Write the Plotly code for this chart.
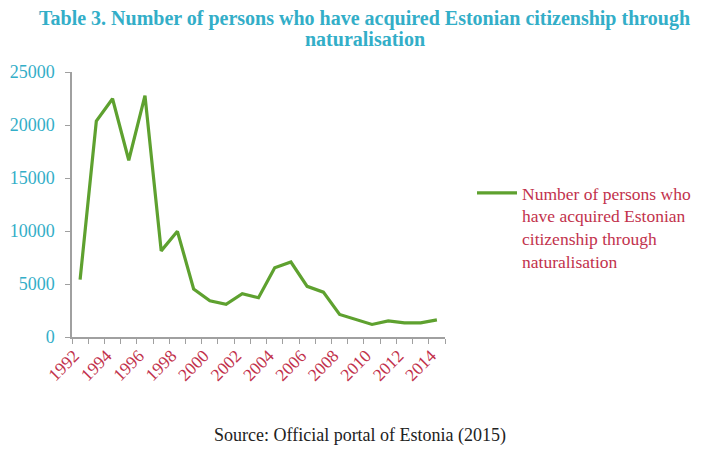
import plotly.graph_objects as go

years = list(range(1992, 2015))
persons = [5421, 20370, 22474, 16674, 22773, 8124, 9969, 4534, 3425, 3090,
           4091, 3706, 6523, 7072, 4781, 4228, 2124, 1670, 1184, 1518,
           1340, 1330, 1614]
tick_years = list(range(1992, 2015, 2))
series_name = "Number of persons who<br>have acquired Estonian<br>citizenship through<br>naturalisation"
title_lines = ["Table 3. Number of persons who have acquired Estonian citizenship through",
               "naturalisation"]
source_text = "Source: Official portal of Estonia (2015)"

FONT = "Liberation Serif"
TEAL = "#33aec8"
RED = "#c2324c"
GREEN = "#5ea12f"

# page body has an 8px margin, so the figure is drawn 8px smaller and offset
OFF = 8
W, H = 716 - 16, 454 - 16
L, T = 72 - OFF, 72 - OFF
R = W - (445 - OFF)
B = H - (337 - OFF)
PW, PH = W - L - R, H - T - B


def px_x(x_abs):
    return (x_abs - OFF - L) / PW


def px_y(y_abs):
    return (H - B - (y_abs - OFF)) / PH


fig = go.Figure()
fig.add_trace(go.Scatter(
    x=years, y=persons, mode="lines", name=series_name,
    line=dict(color=GREEN, width=3.2),
))

annotations = [
    dict(text="<b>%s</b>" % title_lines[0], xref="paper", yref="paper",
         x=px_x(364), y=px_y(18), xanchor="center", yanchor="middle", showarrow=False,
         font=dict(family=FONT, size=20, color=TEAL)),
    dict(text="<b>%s</b>" % title_lines[1], xref="paper", yref="paper",
         x=px_x(365), y=px_y(39), xanchor="center", yanchor="middle", showarrow=False,
         font=dict(family=FONT, size=20, color=TEAL)),
    dict(text=source_text, xref="paper", yref="paper",
         x=px_x(360), y=px_y(435), xanchor="center", yanchor="middle", showarrow=False,
         font=dict(family=FONT, size=18, color="#222")),
]

fig.update_layout(
    width=W, height=H,
    margin=dict(l=L, r=R, t=T, b=B, autoexpand=False),
    paper_bgcolor="white", plot_bgcolor="white",
    font=dict(family=FONT, size=15, color="#333"),
    showlegend=True,
    legend=dict(x=px_x(472), y=px_y(175), xanchor="left", yanchor="top",
                valign="top", itemwidth=40,
                font=dict(family=FONT, size=17.5, color=RED),
                bgcolor="rgba(0,0,0,0)"),
    annotations=annotations,
)

fig.update_xaxes(
    range=[1991.5, 2014.5],
    tickmode="array", tickvals=tick_years, ticktext=[str(y) for y in tick_years],
    tickangle=-45, ticks="", ticklabelshift=-6,
    tickfont=dict(family=FONT, size=17.5, color=RED),
    showline=True, linecolor="#a0a0a0", linewidth=1.5,
    showgrid=False, zeroline=False,
    minor=dict(tick0=1991.5, dtick=1, ticks="outside", ticklen=5, tickcolor="#a0a0a0", showgrid=False),
)
fig.update_yaxes(
    range=[0, 25000], dtick=5000, tickformat="d",
    ticks="outside", ticklen=5, tickcolor="#a0a0a0", ticklabelstandoff=7,
    tickfont=dict(family=FONT, size=18, color=TEAL),
    showline=True, linecolor="#a0a0a0", linewidth=1.5,
    showgrid=False, zeroline=False,
)

fig.write_html("out.html")
